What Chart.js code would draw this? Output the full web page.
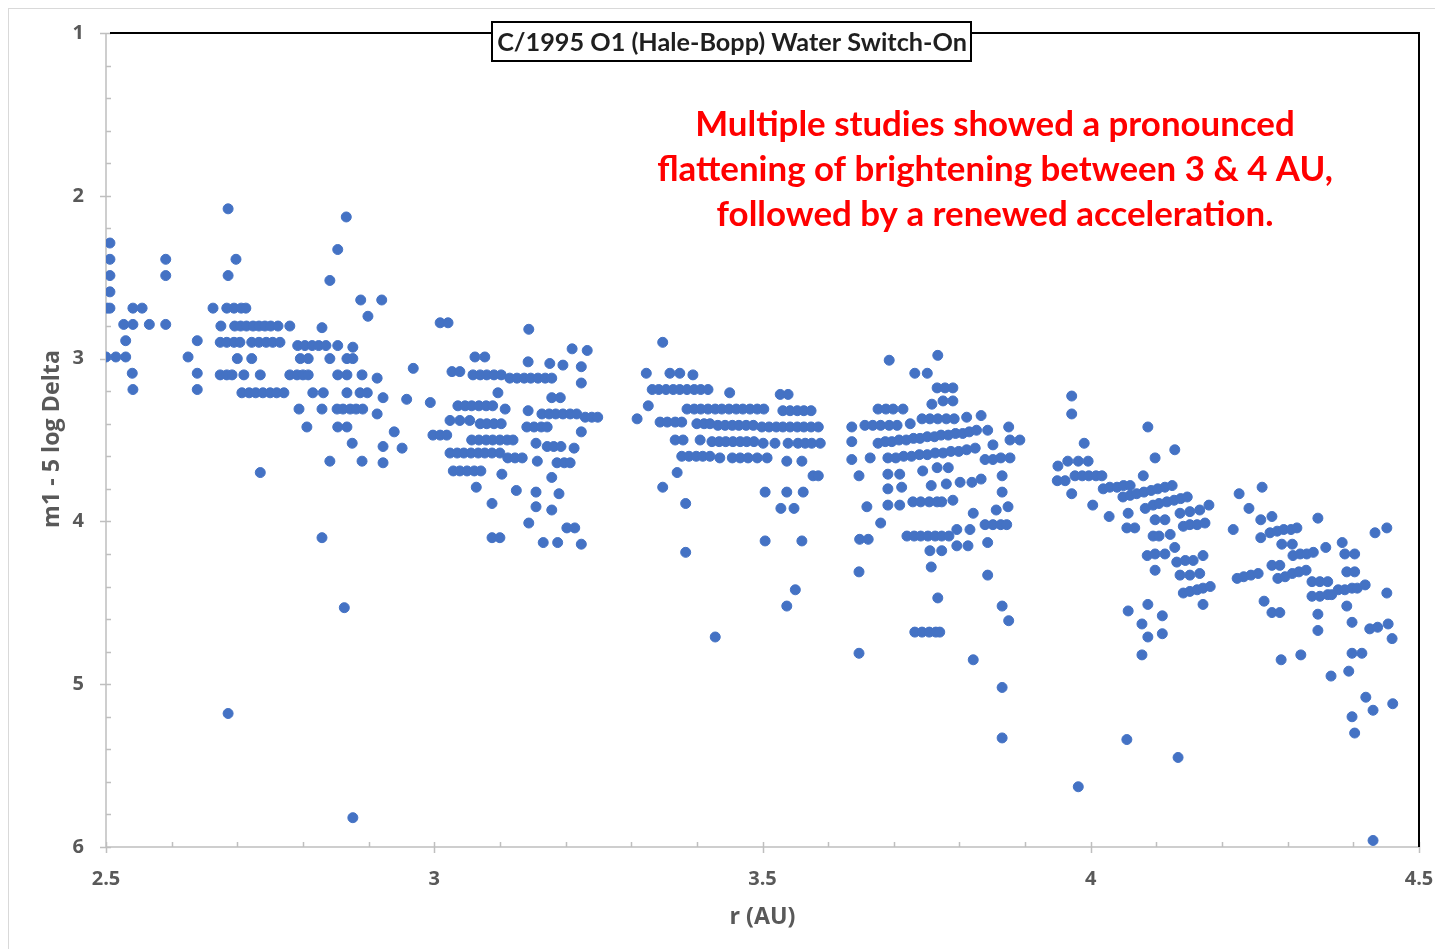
<!DOCTYPE html>
<html>
<head>
<meta charset="utf-8">
<script src="https://cdn.jsdelivr.net/npm/chart.js@4.4.1/dist/chart.umd.min.js"></script>
<style>
    html, body { margin: 0; padding: 0; background: #fff; overflow: hidden; }
    #wrap { position: relative; width: 1435px; height: 949px; }
    #frame { position: absolute; left: 8px; top: 8px; width: 1440px; height: 960px; border: 1px solid #d9d9d9; }
    canvas { position: absolute; left: 0; top: 0; }
</style>
</head>
<body>
<div id="wrap">
    <div id="frame"></div>
    <canvas id="chart" width="1435" height="949"></canvas>
</div>
<script>
// --- Data: [r (AU), m1 - 5 log Delta] ---

// r 2.5 - 3.0
const seg1 = [
    [2.506,2.29],[2.506,2.39],[2.506,2.49],[2.506,2.59],[2.506,2.69],[2.502,2.69],
    [2.500,2.99],[2.515,2.99],[2.530,2.99],[2.541,2.69],[2.555,2.69],
    [2.527,2.79],[2.541,2.79],[2.566,2.79],[2.591,2.79],
    [2.530,2.89],[2.540,3.09],[2.541,3.19],[2.591,2.39],[2.591,2.49],
    [2.639,2.89],[2.625,2.99],[2.639,3.09],[2.639,3.19],
    [2.686,2.08],[2.698,2.39],[2.686,2.49],
    [2.663,2.69],[2.684,2.69],[2.695,2.69],[2.706,2.69],[2.713,2.69],
    [2.675,2.80],[2.696,2.80],[2.705,2.80],[2.714,2.80],[2.724,2.80],[2.733,2.80],[2.742,2.80],[2.751,2.80],[2.762,2.80],[2.780,2.80],
    [2.674,2.90],[2.684,2.90],[2.695,2.90],[2.704,2.90],[2.722,2.90],[2.733,2.90],[2.744,2.90],[2.754,2.90],[2.765,2.90],
    [2.792,2.92],[2.803,2.92],[2.814,2.92],[2.824,2.92],[2.835,2.92],
    [2.829,2.81],[2.853,2.92],[2.876,2.93],
    [2.700,3.00],[2.722,3.00],[2.796,3.00],[2.808,3.00],[2.841,3.00],[2.867,3.00],[2.876,3.00],
    [2.674,3.10],[2.684,3.10],[2.692,3.10],[2.710,3.10],[2.735,3.10],[2.780,3.10],[2.791,3.10],[2.800,3.10],[2.808,3.10],[2.853,3.10],[2.867,3.10],[2.890,3.10],
    [2.707,3.21],[2.718,3.21],[2.728,3.21],[2.739,3.21],[2.750,3.21],[2.760,3.21],[2.771,3.21],[2.815,3.21],[2.831,3.21],[2.867,3.21],[2.887,3.21],[2.898,3.21],
    [2.794,3.31],[2.829,3.31],[2.852,3.31],[2.861,3.31],[2.872,3.31],[2.881,3.31],[2.891,3.31],
    [2.806,3.42],[2.853,3.42],[2.867,3.42],[2.875,3.52],[2.841,3.63],[2.890,3.63],[2.735,3.70],
    [2.866,2.13],[2.853,2.33],[2.841,2.52],[2.888,2.64],[2.899,2.74],[2.920,2.64],
    [2.829,4.10],[2.863,4.53],[2.686,5.18],[2.876,5.82],
    [2.913,3.12],[2.922,3.24],[2.958,3.25],[2.994,3.27],[2.913,3.34],[2.939,3.45],
    [2.922,3.54],[2.951,3.55],[2.922,3.64],[2.968,3.06]
];

// r 3.0 - 3.25
const seg2 = [
    [3.009,2.78],[3.021,2.78],[3.144,2.82],[3.062,2.99],[3.077,2.99],[3.027,3.08],[3.039,3.08],
    [3.059,3.10],[3.070,3.10],[3.080,3.10],[3.091,3.10],[3.102,3.10],
    [3.115,3.12],[3.126,3.12],[3.137,3.12],[3.147,3.12],[3.158,3.12],[3.169,3.12],[3.179,3.12],
    [3.143,3.02],[3.176,3.03],[3.196,3.04],[3.210,2.94],[3.233,2.95],[3.224,3.05],[3.224,3.15],
    [3.097,3.21],[3.179,3.24],[3.192,3.24],
    [3.036,3.29],[3.047,3.29],[3.057,3.29],[3.068,3.29],[3.079,3.29],[3.089,3.29],
    [3.108,3.31],[3.143,3.32],
    [3.164,3.34],[3.175,3.34],[3.185,3.34],[3.196,3.34],[3.207,3.34],[3.217,3.34],
    [3.230,3.36],[3.240,3.36],[3.249,3.36],
    [3.024,3.38],[3.039,3.38],[3.054,3.38],
    [3.070,3.40],[3.080,3.40],[3.091,3.40],[3.102,3.40],
    [3.141,3.42],[3.152,3.42],[3.163,3.42],[3.172,3.42],
    [2.998,3.47],[3.009,3.47],[3.019,3.47],
    [3.057,3.50],[3.068,3.50],[3.079,3.50],[3.089,3.50],[3.100,3.50],[3.111,3.50],[3.120,3.50],
    [3.224,3.45],[3.155,3.52],[3.172,3.54],[3.182,3.54],[3.193,3.54],[3.213,3.55],
    [3.024,3.58],[3.035,3.58],[3.045,3.58],[3.056,3.58],[3.067,3.58],[3.077,3.58],[3.088,3.58],[3.100,3.58],
    [3.112,3.61],[3.123,3.61],[3.134,3.61],[3.157,3.63],
    [3.187,3.64],[3.198,3.64],[3.207,3.64],
    [3.029,3.69],[3.039,3.69],[3.050,3.69],[3.061,3.69],[3.071,3.69],
    [3.103,3.71],[3.179,3.73],[3.064,3.79],[3.125,3.81],[3.155,3.82],[3.190,3.83],
    [3.088,3.89],[3.155,3.91],[3.179,3.93],[3.144,4.01],[3.202,4.04],[3.214,4.04],
    [3.088,4.10],[3.100,4.10],[3.166,4.13],[3.188,4.13],[3.224,4.14]
];

// r 3.3 - 3.6
const seg3 = [
    [3.348,2.90],[3.323,3.09],[3.359,3.09],[3.374,3.09],[3.394,3.10],
    [3.332,3.19],[3.342,3.19],[3.353,3.19],[3.364,3.19],[3.374,3.19],[3.385,3.19],[3.396,3.19],[3.406,3.19],[3.417,3.19],
    [3.450,3.21],[3.527,3.22],[3.539,3.22],[3.326,3.29],[3.309,3.37],
    [3.385,3.31],[3.396,3.31],[3.406,3.31],[3.417,3.31],[3.428,3.31],[3.438,3.31],[3.449,3.31],[3.460,3.31],[3.470,3.31],[3.481,3.31],[3.492,3.31],[3.502,3.31],
    [3.531,3.32],[3.542,3.32],[3.553,3.32],[3.563,3.32],[3.574,3.32],
    [3.344,3.39],[3.355,3.39],[3.367,3.39],[3.377,3.39],
    [3.400,3.40],[3.411,3.40],[3.420,3.40],
    [3.432,3.41],[3.443,3.41],[3.454,3.41],[3.464,3.41],[3.475,3.41],[3.486,3.41],
    [3.499,3.42],[3.510,3.42],[3.521,3.42],[3.531,3.42],[3.542,3.42],[3.553,3.42],[3.563,3.42],[3.574,3.42],[3.585,3.42],
    [3.367,3.50],[3.379,3.50],[3.405,3.50],
    [3.423,3.51],[3.434,3.51],[3.444,3.51],[3.455,3.51],[3.466,3.51],[3.476,3.51],[3.487,3.51],
    [3.501,3.52],[3.519,3.52],[3.539,3.52],[3.554,3.52],[3.565,3.52],[3.575,3.52],[3.588,3.52],
    [3.377,3.60],[3.388,3.60],[3.399,3.60],[3.409,3.60],[3.420,3.60],
    [3.435,3.61],[3.454,3.61],[3.466,3.61],[3.478,3.61],[3.492,3.61],[3.507,3.61],
    [3.537,3.63],[3.560,3.63],[3.370,3.70],[3.577,3.72],[3.585,3.72],
    [3.348,3.79],[3.504,3.82],[3.537,3.82],[3.562,3.82],
    [3.383,3.89],[3.528,3.92],[3.548,3.92],[3.504,4.12],[3.560,4.12],[3.383,4.19],
    [3.550,4.42],[3.537,4.52],[3.428,4.71]
];

// r 3.63 - 3.9
const seg4 = [
    [3.693,3.01],[3.767,2.98],[3.732,3.09],[3.751,3.09],
    [3.766,3.18],[3.778,3.18],[3.790,3.18],[3.775,3.26],[3.790,3.26],[3.758,3.28],
    [3.676,3.31],[3.688,3.31],[3.699,3.31],[3.714,3.31],
    [3.636,3.42],[3.656,3.41],[3.668,3.41],[3.680,3.41],[3.693,3.41],[3.705,3.41],[3.725,3.40],
    [3.743,3.37],[3.755,3.37],[3.767,3.37],[3.780,3.37],[3.792,3.37],[3.811,3.36],[3.833,3.35],
    [3.636,3.51],
    [3.676,3.52],[3.687,3.51],[3.697,3.51],[3.708,3.50],[3.719,3.50],[3.730,3.49],[3.740,3.49],[3.751,3.48],
    [3.762,3.48],[3.772,3.47],[3.783,3.47],[3.794,3.46],[3.805,3.46],[3.815,3.45],[3.826,3.44],
    [3.843,3.44],[3.875,3.42],[3.636,3.62],[3.664,3.61],
    [3.691,3.61],[3.703,3.61],[3.715,3.60],[3.727,3.60],[3.739,3.59],[3.751,3.59],
    [3.763,3.58],[3.775,3.58],[3.787,3.57],[3.799,3.57],[3.811,3.56],[3.824,3.55],
    [3.851,3.53],[3.877,3.50],[3.892,3.50],
    [3.839,3.62],[3.851,3.62],[3.863,3.61],[3.877,3.61],
    [3.647,3.72],[3.691,3.71],[3.709,3.71],[3.744,3.69],[3.766,3.67],[3.783,3.67],
    [3.865,3.72],[3.833,3.74],[3.801,3.76],[3.819,3.76],
    [3.691,3.80],[3.712,3.79],[3.757,3.78],[3.780,3.77],[3.865,3.82],
    [3.691,3.90],[3.709,3.90],[3.729,3.88],[3.741,3.88],[3.754,3.88],[3.766,3.88],[3.773,3.88],
    [3.790,3.87],[3.659,3.91],[3.821,3.95],[3.856,3.93],[3.874,3.91],[3.680,4.01],
    [3.839,4.02],[3.851,4.02],[3.863,4.02],[3.872,4.02],
    [3.720,4.09],[3.731,4.09],[3.741,4.09],[3.752,4.09],[3.763,4.09],[3.773,4.09],[3.784,4.09],
    [3.796,4.05],[3.816,4.05],[3.796,4.15],[3.813,4.15],[3.648,4.11],[3.661,4.11],
    [3.755,4.18],[3.773,4.18],[3.843,4.13],
    [3.647,4.31],[3.757,4.28],[3.843,4.33],[3.767,4.47],[3.865,4.52],[3.875,4.61],
    [3.732,4.68],[3.743,4.68],[3.754,4.68],[3.764,4.68],[3.770,4.68],
    [3.647,4.81],[3.821,4.85],[3.865,5.02],[3.865,5.33]
];

// r 3.95 - 4.2
const seg5 = [
    [3.971,3.23],[3.971,3.34],[4.087,3.42],[3.990,3.52],[4.128,3.56],[4.098,3.61],
    [3.950,3.66],[3.965,3.63],[3.981,3.63],[3.996,3.63],[3.949,3.75],[3.961,3.75],
    [3.976,3.72],[3.987,3.72],[3.997,3.72],[4.008,3.72],[4.017,3.72],[3.971,3.83],
    [4.019,3.80],[4.029,3.79],[4.040,3.79],[4.050,3.78],[4.060,3.78],[4.080,3.72],
    [4.003,3.90],[4.028,3.97],
    [4.049,3.85],[4.060,3.84],[4.070,3.83],[4.081,3.82],[4.092,3.81],[4.102,3.80],[4.113,3.79],[4.124,3.78],
    [4.057,3.95],[4.055,4.04],[4.067,4.04],[4.083,3.92],
    [4.095,3.90],[4.104,3.89],[4.116,3.88],[4.127,3.87],[4.137,3.86],[4.147,3.85],
    [4.098,3.99],[4.113,3.99],[4.136,3.95],[4.151,3.94],[4.166,3.93],[4.180,3.90],
    [4.141,4.03],[4.151,4.02],[4.162,4.02],[4.174,4.01],
    [4.095,4.09],[4.104,4.09],[4.121,4.08],[4.128,4.16],
    [4.086,4.21],[4.098,4.20],[4.113,4.20],[4.171,4.21],[4.098,4.30],
    [4.131,4.25],[4.144,4.24],[4.156,4.24],[4.136,4.33],[4.151,4.33],[4.166,4.32],
    [4.141,4.44],[4.151,4.43],[4.162,4.42],[4.171,4.41],[4.182,4.40],[4.171,4.51],
    [4.057,4.55],[4.087,4.51],[4.078,4.63],[4.109,4.58],[4.087,4.71],[4.109,4.69],[4.078,4.82],
    [4.055,5.34],[4.133,5.45],[3.981,5.63]
];

// r 4.2 - 4.46
const seg6 = [
    [4.217,4.05],[4.226,3.83],[4.261,3.79],[4.241,3.92],[4.259,3.99],[4.276,3.97],[4.259,4.10],
    [4.273,4.07],[4.284,4.06],[4.294,4.05],[4.305,4.05],[4.314,4.04],[4.291,4.14],[4.307,4.14],[4.346,3.98],
    [4.223,4.35],[4.233,4.34],[4.244,4.33],[4.255,4.32],[4.276,4.27],[4.288,4.27],
    [4.285,4.35],[4.296,4.34],[4.307,4.32],[4.317,4.31],[4.328,4.30],
    [4.308,4.21],[4.319,4.20],[4.329,4.20],[4.339,4.19],[4.358,4.16],[4.383,4.13],[4.387,4.20],[4.402,4.20],
    [4.337,4.37],[4.349,4.37],[4.361,4.37],[4.337,4.46],[4.349,4.46],[4.361,4.45],[4.367,4.45],
    [4.390,4.31],[4.402,4.31],[4.377,4.42],[4.387,4.42],[4.398,4.41],[4.406,4.41],
    [4.418,4.39],[4.451,4.44],[4.433,4.07],[4.451,4.04],
    [4.264,4.49],[4.276,4.56],[4.288,4.56],[4.346,4.57],[4.390,4.52],[4.346,4.67],[4.398,4.62],
    [4.425,4.66],[4.437,4.65],[4.453,4.63],[4.459,4.72],
    [4.290,4.85],[4.320,4.82],[4.398,4.81],[4.413,4.81],[4.393,4.92],[4.366,4.95],
    [4.419,5.08],[4.460,5.12],[4.430,5.16],[4.398,5.20],[4.402,5.30],[4.430,5.96]
];

const xRange = [2.5, 4.5];
const yRange = [1, 6];
const xMinorStep = 0.1;
const yMinorStep = 0.2;

const chartTitle = 'C/1995 O1 (Hale-Bopp) Water Switch-On';
const noteLines = [
    'Multiple studies showed a pronounced',
    'flattening of brightening between 3 & 4 AU,',
    'followed by a renewed acceleration.'
];
const xTitle = 'r (AU)';
const yTitle = 'm1 - 5 log Delta';

const allPoints = [...seg1, ...seg2, ...seg3, ...seg4, ...seg5, ...seg6].map(([x, y]) => ({ x, y }));

const axisGray = '#bfbfbf';
const textGray = '#595959';
const labelFont = "'Open Sans', sans-serif";

// size text so it spans a given width
function fitSize(ctx, text, weight, family, width) {
    ctx.font = `${weight} 100px ${family}`;
    return 100 * width / ctx.measureText(text).width;
}

const decor = {
    id: 'decor',
    beforeDatasetsDraw(chart) {
        const { ctx, chartArea: { left, right, top, bottom }, scales: { x, y } } = chart;
        ctx.save();
        ctx.strokeStyle = axisGray;
        ctx.lineWidth = 1.5;
        ctx.beginPath();
        ctx.moveTo(left, top);
        ctx.lineTo(left, bottom);
        ctx.lineTo(right, bottom);
        // y ticks, inside; majors cross the axis
        for (let i = 0; i <= Math.round((yRange[1] - yRange[0]) / yMinorStep); i++) {
            const v = yRange[0] + i * yMinorStep;
            const py = Math.round(y.getPixelForValue(v)) + 0.5;
            const major = Math.abs(v - Math.round(v)) < 1e-6;
            ctx.moveTo(major ? left - 6 : left, py);
            ctx.lineTo(left + 5, py);
        }
        // x ticks
        for (let i = 0; i <= Math.round((xRange[1] - xRange[0]) / xMinorStep); i++) {
            const v = xRange[0] + i * xMinorStep;
            const px = Math.round(x.getPixelForValue(v)) + 0.5;
            const major = Math.abs(v * 2 - Math.round(v * 2)) < 1e-6;
            ctx.moveTo(px, major ? bottom + 6 : bottom);
            ctx.lineTo(px, bottom - 5);
        }
        ctx.stroke();

        // black border on top and right
        ctx.strokeStyle = '#000';
        ctx.lineWidth = 2;
        ctx.beginPath();
        ctx.moveTo(left + 4, top);
        ctx.lineTo(right, top);
        ctx.lineTo(right, bottom);
        ctx.stroke();
        ctx.restore();
    },
    afterDraw(chart) {
        const { ctx, chartArea: { left, right, top, bottom } } = chart;
        ctx.save();

        // axis titles
        ctx.fillStyle = textGray;
        ctx.textAlign = 'center';
        ctx.textBaseline = 'middle';
        const xs = fitSize(ctx, xTitle, 'bold', labelFont, 66);
        ctx.font = `bold ${xs}px ${labelFont}`;
        ctx.fillText(xTitle, (left + right) / 2, 917);
        const ys = fitSize(ctx, yTitle, 'bold', labelFont, 178);
        ctx.translate(52, 439);
        ctx.rotate(-Math.PI / 2);
        ctx.font = `bold ${ys}px ${labelFont}`;
        ctx.fillText(yTitle, 0, 0);
        ctx.setTransform(1, 0, 0, 1, 0, 0);

        // title box over the top border
        ctx.fillStyle = '#fff';
        ctx.fillRect(492, 22, 479, 39);
        ctx.strokeStyle = '#000';
        ctx.lineWidth = 2;
        ctx.strokeRect(492, 22, 479, 39);
        const tSize = Math.min(30, fitSize(ctx, chartTitle, 'bold', "'Lato', sans-serif", 470));
        ctx.font = `bold ${tSize}px 'Lato', sans-serif`;
        ctx.fillStyle = '#1f1f1f';
        ctx.fillText(chartTitle, 732, 43);

        // red note
        const nSize = fitSize(ctx, noteLines[1], 'bold', "'Lato', sans-serif", 676);
        ctx.font = `bold ${nSize}px 'Lato', sans-serif`;
        ctx.fillStyle = '#ff0000';
        noteLines.forEach((line, i) => ctx.fillText(line, 995, 125 + i * 45));
        ctx.restore();
    }
};

const ctx = document.getElementById('chart').getContext('2d');
new Chart(ctx, {
    type: 'scatter',
    data: {
        datasets: [{
            label: 'Hale-Bopp',
            data: allPoints,
            backgroundColor: '#4472c4',
            borderColor: '#4472c4',
            borderWidth: 1,
            pointRadius: 5,
            pointHoverRadius: 5
        }]
    },
    options: {
        responsive: false,
        animation: false,
        devicePixelRatio: 1,
        layout: { padding: { top: 33, right: 16, left: 0, bottom: 0 } },
        plugins: {
            legend: { display: false },
            tooltip: { enabled: false }
        },
        scales: {
            x: {
                type: 'linear',
                min: xRange[0],
                max: xRange[1],
                grid: { display: false, drawTicks: false },
                border: { display: false },
                ticks: {
                    stepSize: 0.5,
                    padding: 20,
                    color: textGray,
                    font: { family: labelFont, size: 20, weight: 'bold' },
                    callback: v => String(v)
                },
                afterFit: s => { s.height = 102; s.paddingRight = 0; s.paddingLeft = 0; }
            },
            y: {
                type: 'linear',
                reverse: true,
                min: yRange[0],
                max: yRange[1],
                grid: { display: false, drawTicks: false },
                border: { display: false },
                ticks: {
                    stepSize: 1,
                    padding: 22,
                    color: textGray,
                    font: { family: labelFont, size: 20, weight: 'bold' }
                },
                afterFit: s => { s.width = 106; s.paddingTop = 0; s.paddingBottom = 0; }
            }
        }
    },
    plugins: [decor]
});
</script>
</body>
</html>
